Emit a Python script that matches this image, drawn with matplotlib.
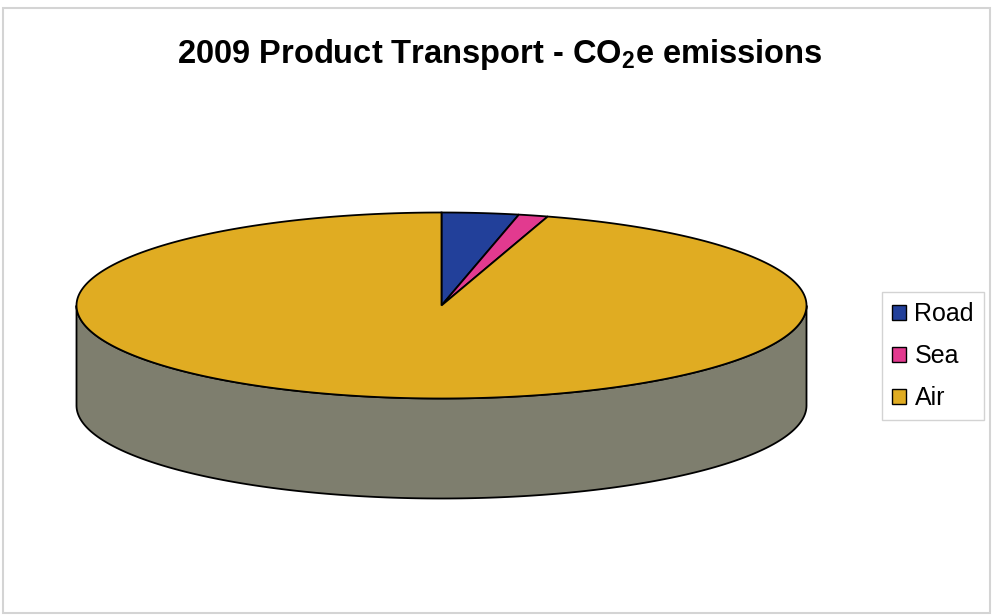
import matplotlib
matplotlib.use("Agg")
import matplotlib.pyplot as plt
import matplotlib.patches as mpatches
import numpy as np

# emissions share by transport mode (%)
categories = ["Road", "Sea", "Air"]
shares = [3.4, 1.3, 95.3]
colors = ["#22409A", "#E23A8F", "#E0AC22"]
side_color = "#7E7E6E"

plt.rcParams["font.family"] = ["Liberation Sans", "DejaVu Sans"]
plt.rcParams["mathtext.fontset"] = "custom"
plt.rcParams["mathtext.bf"] = "Liberation Sans:bold"
plt.rcParams["mathtext.rm"] = "Liberation Sans:bold"

W, H = 993, 615
fig = plt.figure(figsize=(W / 100, H / 100), dpi=100)
ax = fig.add_axes([0, 0, 1, 1])
ax.set_xlim(0, W)
ax.set_ylim(H, 0)
ax.axis("off")

# outer chart frame
ax.add_patch(mpatches.Rectangle((3, 8), 987, 605, fill=False,
                                edgecolor="#D4D4D4", linewidth=1.5))

# pie geometry (pixels): centre, semi-axes, thickness
cx, cy, a, b, depth = 441.5, 305.5, 365, 93, 100


def rim(t):
    # t: angle clockwise from the top, in degrees
    t = np.radians(t)
    return cx + a * np.sin(t), cy - b * np.cos(t)


# front wall (lower half of the disc)
t = np.linspace(90, 270, 200)
xs, ys = rim(t)
wall_x = np.concatenate([xs, xs[::-1]])
wall_y = np.concatenate([ys, ys[::-1] + depth])
ax.fill(wall_x, wall_y, facecolor=side_color, edgecolor="black", linewidth=1.3)

# top face slices
start = 0.0
for share, col in zip(shares, colors):
    sweep = 360 * share / 100
    t = np.linspace(start, start + sweep, max(int(sweep * 2), 4))
    xs, ys = rim(t)
    ax.fill(np.concatenate([[cx], xs]), np.concatenate([[cy], ys]),
            facecolor=col, edgecolor="black", linewidth=1.3, joinstyle="miter")
    start += sweep

ax.text(500, 55, r"2009 Product Transport - CO$_\mathbf{2}$e emissions",
        ha="center", va="center", fontsize=23.5, fontweight="bold")

handles = [mpatches.Patch(facecolor=c, edgecolor="black", linewidth=1.0, label=l)
           for c, l in zip(colors, categories)]
leg = ax.legend(handles=handles, loc="upper left",
                bbox_to_anchor=(882 / W, 1 - 292 / H), fontsize=18,
                frameon=True, fancybox=False, handlelength=0.55, handleheight=0.55,
                handletextpad=0.35, labelspacing=0.72, borderpad=0.4,
                borderaxespad=0)
leg.get_frame().set_edgecolor("#C8C8C8")
leg.get_frame().set_linewidth(1.0)

fig.savefig("out.png", dpi=100, facecolor="white")
